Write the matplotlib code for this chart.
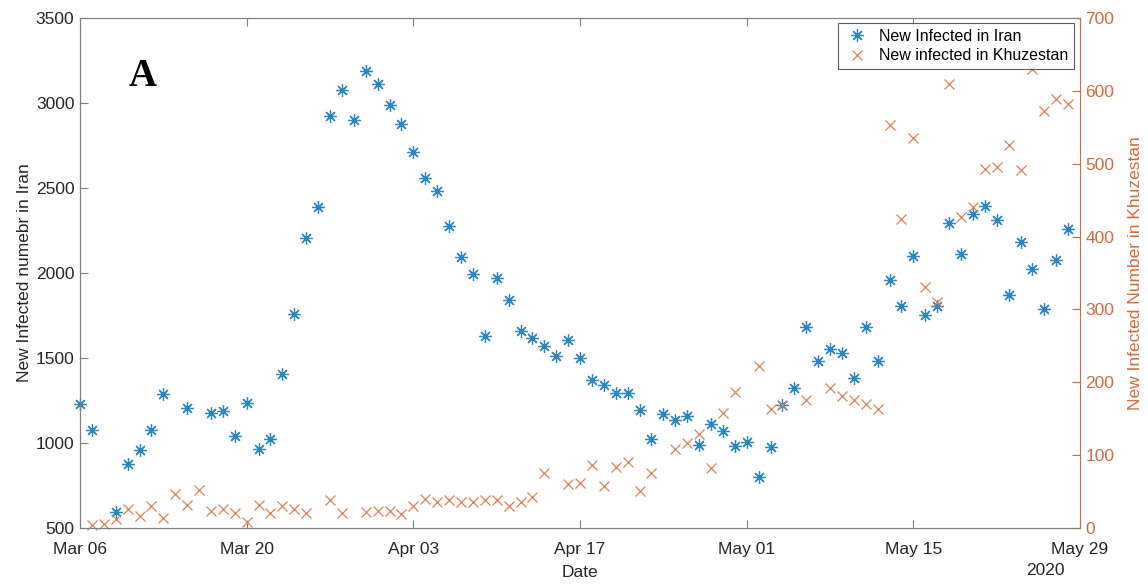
import numpy as np
import matplotlib
matplotlib.use("Agg")
import matplotlib.pyplot as plt
import matplotlib.dates as mdates

plt.rcParams["font.family"] = ["Liberation Sans", "DejaVu Sans"]

# daily new cases from 6 March 2020 (nan = no report that day)
nan = np.nan
start_date = np.datetime64("2020-03-06")
iran_new = [
    1232, 1074, nan, 592, 877, 956, 1074, 1287, nan, 1208,
    nan, 1178, 1188, 1042, 1234, 965, 1026, 1408, 1759, 2204,
    2388, 2924, 3078, 2898, 3187, 3113, 2986, 2876, 2714, 2556,
    2480, 2276, 2092, 1996, 1632, 1972, 1840, 1658, 1617, 1573,
    1512, 1606, 1500, 1372, 1343, 1293, 1295, 1194, 1026, 1168,
    1135, 1157, 988, 1113, 1069, 982, 1004, 802, 976, 1224,
    1322, 1680, 1483, 1552, 1527, 1381, 1680, 1481, 1959, 1806,
    2100, 1754, 1808, 2296, 2112, 2347, 2395, 2311, 1868, 2180,
    2024, 1787, 2078, 2260,
]
khuzestan_new = [
    nan, 4, 6, 13, 26, 16, 30, 14, 47, 31,
    52, 24, 26, 20, 8, 31, 20, 30, 26, 21,
    nan, 39, 21, nan, 22, 23, 23, 19, 30, 40,
    36, 38, 36, 35, 39, 38, 30, 36, 43, 76,
    nan, 61, 62, 87, 58, 84, 91, 51, 76, nan,
    108, 116, 129, 83, 158, 186, nan, 223, 164, 169,
    nan, 175, nan, 192, 181, 175, 170, 163, 553, 424,
    535, 331, 310, 609, 427, 441, 493, 495, 525, 491,
    630, 573, 589, 582,
]
dates = start_date + np.arange(len(iran_new))
tick_dates = start_date + np.arange(0, 85, 14)

BLUE = "#2A86C0"
ORANGE = "#D9825A"
ORANGE_AXIS = "#CF6A3C"
DARK = "#262626"
GREY = "#808080"

fig = plt.figure(figsize=(11.48, 5.86), dpi=100)
ax = fig.add_axes([0.0697, 0.099, 0.8711, 0.8703])
ax2 = ax.twinx()

h1, = ax.plot(dates, iran_new, linestyle="none", marker=(8, 2, 0),
              markersize=9, markeredgewidth=0.9, color=BLUE,
              label="New Infected in Iran", clip_on=False)
h2, = ax2.plot(dates, khuzestan_new, linestyle="none", marker="x",
               markersize=7, markeredgewidth=0.9, color=ORANGE,
               label="New infected in Khuzestan", clip_on=False)

ax.set_xlim(start_date, start_date + np.timedelta64(84, "D"))
ax.set_ylim(500, 3500)
ax2.set_ylim(0, 700)
ax.set_yticks(np.arange(500, 3501, 500))
ax2.set_yticks(np.arange(0, 701, 100))
ax.set_xticks(tick_dates)
ax.xaxis.set_major_formatter(mdates.DateFormatter("%b %d"))

ax.tick_params(axis="x", direction="in", length=6, top=True, colors=GREY,
               labelcolor=DARK, labelsize=12.5, pad=10)
ax.tick_params(axis="y", direction="in", length=6, colors=GREY,
               labelcolor=DARK, labelsize=12.5, pad=4)
ax2.tick_params(axis="y", direction="in", length=6, colors=ORANGE_AXIS,
                labelcolor=ORANGE_AXIS, labelsize=12.5, pad=4)

for side in ("left", "top", "bottom"):
    ax.spines[side].set_color(GREY)
    ax2.spines[side].set_color(GREY)
ax.spines["right"].set_visible(False)
ax2.spines["right"].set_color(ORANGE_AXIS)

ax.set_xlabel("Date", fontsize=12.5, color=DARK, labelpad=6)
ax.set_ylabel("New Infected numebr in Iran", fontsize=12.5, color=DARK,
              labelpad=3)
ax2.set_ylabel("New Infected Number in Khuzestan", fontsize=12.5,
               color=ORANGE_AXIS, rotation=90, labelpad=10)
ax.text(0.985, -0.069, "2020", transform=ax.transAxes, ha="right",
        va="top", fontsize=12.5, color=DARK)

ax.text(0.063, 0.885, "A", transform=ax.transAxes, ha="center", va="center",
        fontsize=28, fontweight="bold", family="Liberation Serif")

leg = ax2.legend(handles=[h1, h2], loc="upper right",
                 bbox_to_anchor=(0.994, 0.99), borderaxespad=0,
                 fontsize=11.5, frameon=True, fancybox=False,
                 handletextpad=0.6, borderpad=0.35, labelspacing=0.3,
                 handlelength=1.6)
leg.get_frame().set_edgecolor("#333333")
leg.get_frame().set_linewidth(0.8)

fig.savefig("out.png", dpi=100)
